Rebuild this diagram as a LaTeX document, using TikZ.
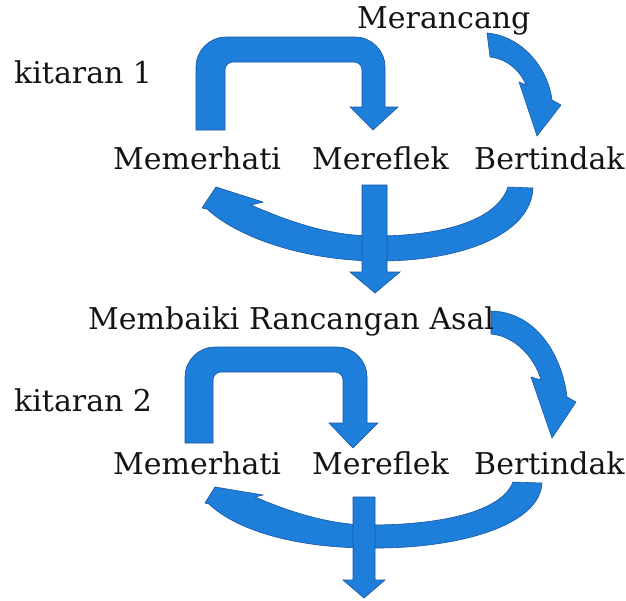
\documentclass[tikz,border=0pt]{standalone}
\usepackage{fontspec}
\setmainfont{DejaVu Serif}
\definecolor{arrblue}{RGB}{30,127,218}
\definecolor{arredge}{RGB}{25,85,160}
\definecolor{txt}{RGB}{20,20,20}
\begin{document}
\begin{tikzpicture}[x=1pt,y=-1pt,
  blk/.style={fill=arrblue,draw=arredge,line width=0.6pt,line join=miter},
  lbl/.style={anchor=base west,inner sep=0pt,text=txt,font=\fontsize{30}{36}\selectfont}]
\useasboundingbox (0,0) rectangle (626,600);

% ---------- cycle 1 ----------
% loop arrow Memerhati -> Mereflek
\path[blk] (196,130) -- (196,67) arc (180:270:30) -- (355,37) arc (270:360:30)
  -- (385,107) -- (398,107) -- (373,130) -- (350,107) -- (362,107)
  -- (362,70) arc (0:-90:8) -- (233,62) arc (-90:-180:8) -- (225,130) -- cycle;
% curved arrow Merancang -> Bertindak
\path[blk] (487,33) .. controls (522,36) and (548,68) .. (552,100) -- (561,105)
  -- (537,136) -- (519,82) -- (526,85) .. controls (521,72) and (508,59) .. (490,57) -- cycle;
% bottom arc Bertindak -> Memerhati
\path[blk] (533,188) .. controls (531,235) and (460,262) .. (375,261)
  .. controls (300,260) and (236,236) .. (207,209) -- (202,208) -- (216,187)
  -- (263,202) -- (251,205) .. controls (290,222) and (330,236) .. (375,236)
  .. controls (430,236) and (495,225) .. (508,187) -- cycle;
% down arrow
\path[blk] (362,185) -- (387,185) -- (387,272) -- (400,272) -- (375,293)
  -- (350,272) -- (362,272) -- cycle;

% ---------- cycle 2 ----------
\path[blk] (185,443) -- (185,377) arc (180:270:30) -- (337,347) arc (270:360:30)
  -- (367,423) -- (378,423) -- (353,448) -- (329,423) -- (343,423)
  -- (343,380) arc (0:-90:8) -- (221,372) arc (-90:-180:8) -- (213,443) -- cycle;
\path[blk] (491,311) .. controls (536,312) and (562,355) .. (567,397) -- (576,402)
  -- (552,438) -- (531,377) -- (541,380) .. controls (535,358) and (515,336) .. (491,334) -- cycle;
\path[blk] (542,483) .. controls (540,525) and (460,549) .. (370,548)
  .. controls (295,548) and (236,530) .. (209,504) -- (205,503) -- (215,487)
  -- (263,495) -- (255,497) .. controls (290,512) and (330,525) .. (370,525)
  .. controls (430,525) and (500,515) .. (513,482) -- cycle;
\path[blk] (353,497) -- (375,497) -- (375,580) -- (385,580) -- (364,598)
  -- (343,580) -- (353,580) -- cycle;

% ---------- labels ----------
\node[lbl] (merancang) at (357,28) {Merancang};
\node[lbl] (kit1) at (14,83) {kitaran 1};
\node[lbl] (mem1) at (113,169) {Memerhati};
\node[lbl] (mer1) at (312,169) {Mereflek};
\node[lbl] (ber1) at (474,169) {Bertindak};
\node[lbl] (membaiki) at (88,329) {Membaiki Rancangan Asal};
\node[lbl] (kit2) at (14,411) {kitaran 2};
\node[lbl] (mem2) at (113,474) {Memerhati};
\node[lbl] (mer2) at (312,474) {Mereflek};
\node[lbl] (ber2) at (474,474) {Bertindak};
\end{tikzpicture}
\end{document}
